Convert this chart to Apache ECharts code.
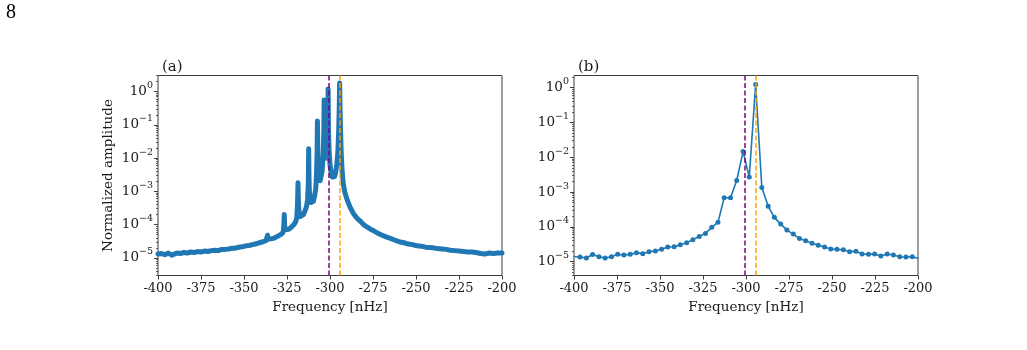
<!DOCTYPE html>
<html>
<head>
<meta charset="utf-8">
<script src="https://cdn.jsdelivr.net/npm/echarts@6/dist/echarts.min.js"></script>
<style>
  html, body { margin: 0; padding: 0; background: #fff; }
  #chart { width: 1027px; height: 350px; }
</style>
</head>
<body>
<div id="chart"></div>
<script>
// panel (a): fine frequency grid, normalized amplitude
var freqA = [
  -400, -398, -396, -394, -392, -390.5, -389, -387, -385, -383,
  -381, -379, -377, -375, -373, -371, -369, -367, -365, -363,
  -361, -359, -357, -355, -353, -351, -349, -347, -345, -343,
  -341, -339, -337.2, -336.6, -336.3, -336.0, -335, -333, -331, -329,
  -327.6, -327.1, -326.8, -326.6, -326.4, -326.1, -325.5, -324, -322.5, -321,
  -320, -319.3, -318.9, -318.6, -318.4, -318.2, -317.9, -317.4, -316.5, -315.5,
  -314.5, -313.6, -313.0, -312.6, -312.4, -312.2, -312.0, -311.6, -311.0, -310.4,
  -309.7, -309.0, -308.3, -307.8, -307.5, -307.3, -307.1, -306.8, -306.3, -305.7,
  -305.2, -304.6, -304.0, -303.6, -303.4, -303.2, -302.9, -302.5, -302.1, -301.7,
  -301.3, -301.1, -300.9, -300.5, -300.0, -299.4, -298.7, -298.0, -297.3, -296.6,
  -296.0, -295.4, -294.9, -294.6, -294.4, -294.2, -293.9, -293.5, -293.0, -292.3,
  -291.3, -290.0, -288.4, -286.5, -284.5, -282.6, -280.5, -278.5, -276.5, -274.8,
  -272.5, -270, -267, -264, -261.5, -259.3, -257, -254.5, -252, -249.6,
  -247, -244.5, -242, -240, -237.5, -235, -232.5, -230, -227.5, -225,
  -222.5, -220, -217.5, -215, -212.5, -210, -207.5, -205, -202.5, -200
];
var ampA = [
  1.3e-5, 1.35e-5, 1.25e-5, 1.4e-5, 1.2e-5, 1.3e-5, 1.4e-5, 1.35e-5, 1.45e-5, 1.4e-5,
  1.5e-5, 1.45e-5, 1.55e-5, 1.5e-5, 1.6e-5, 1.55e-5, 1.65e-5, 1.7e-5, 1.65e-5, 1.8e-5,
  1.8e-5, 1.85e-5, 1.95e-5, 1.95e-5, 2.1e-5, 2.15e-5, 2.3e-5, 2.35e-5, 2.5e-5, 2.65e-5,
  2.85e-5, 3.05e-5, 3.3e-5, 3.6e-5, 4.8e-5, 3.6e-5, 3.55e-5, 3.85e-5, 4.3e-5, 4.9e-5,
  5.5e-5, 6.5e-5, 1.0e-4, 2.0e-4, 1.0e-4, 7.0e-5, 6.6e-5, 7.2e-5, 8.3e-5, 1.0e-4,
  1.2e-4, 1.6e-4, 4.0e-4, 1.8e-3, 6.0e-4, 3.2e-4, 2.2e-4, 1.75e-4, 1.75e-4, 2.0e-4,
  2.6e-4, 3.6e-4, 6.0e-4, 1.8e-3, 1.9e-2, 2.5e-3, 1.0e-3, 6.0e-4, 4.6e-4, 4.3e-4,
  5.0e-4, 7.0e-4, 1.2e-3, 3.5e-3, 1.5e-2, 1.3e-1, 1.5e-2, 4.5e-3, 2.6e-3, 2.1e-3,
  2.3e-3, 4.0e-3, 1.2e-2, 6.0e-2, 5.6e-1, 6.0e-2, 2.2e-2, 1.2e-2, 1.0e-2, 1.5e-2,
  7.0e-2, 1.2, 7.0e-2, 1.5e-2, 6.5e-3, 3.8e-3, 2.7e-3, 2.5e-3, 2.8e-3, 4.0e-3,
  7.0e-3, 1.6e-2, 8.0e-2, 4.0e-1, 1.8, 4.0e-1, 8.0e-2, 1.5e-2, 4.5e-3, 1.7e-3,
  9.0e-4, 5.5e-4, 3.4e-4, 2.2e-4, 1.6e-4, 1.3e-4, 1.0e-4, 8.5e-5, 7.3e-5, 6.6e-5,
  5.6e-5, 4.9e-5, 4.2e-5, 3.7e-5, 3.3e-5, 3.0e-5, 2.85e-5, 2.6e-5, 2.5e-5, 2.3e-5,
  2.25e-5, 2.1e-5, 2.05e-5, 2.0e-5, 1.9e-5, 1.85e-5, 1.8e-5, 1.7e-5, 1.65e-5, 1.6e-5,
  1.55e-5, 1.5e-5, 1.5e-5, 1.45e-5, 1.35e-5, 1.3e-5, 1.4e-5, 1.35e-5, 1.4e-5, 1.4e-5
];

// panel (b): coarse frequency grid
var freqB = [
  -400.1, -396.5, -392.8, -389.2, -385.5, -381.9, -378.2, -374.6, -371.0, -367.3,
  -363.7, -360.0, -356.4, -352.7, -349.1, -345.5, -341.8, -338.2, -334.5, -330.9,
  -327.2, -323.6, -319.9, -316.3, -312.7, -309.0, -305.4, -301.7, -298.1, -294.4,
  -290.8, -287.1, -283.5, -279.8, -276.2, -272.5, -268.9, -265.3, -261.6, -258.0,
  -254.3, -250.7, -247.1, -243.4, -239.8, -236.1, -232.5, -228.8, -225.2, -221.6,
  -217.9, -214.3, -210.6, -207.0, -203.3, -199.7
];
var ampB = [
  1.4e-5, 1.36e-5, 1.27e-5, 1.6e-5, 1.39e-5, 1.27e-5, 1.39e-5, 1.62e-5, 1.55e-5, 1.62e-5,
  1.81e-5, 1.7e-5, 1.94e-5, 2.02e-5, 2.26e-5, 2.63e-5, 2.69e-5, 3.08e-5, 3.5e-5, 4.3e-5,
  5.3e-5, 6.5e-5, 9.7e-5, 1.35e-4, 6.9e-4, 6.9e-4, 2.15e-3, 1.46e-2, 2.7e-3, 1.25,
  1.36e-3, 3.9e-4, 1.88e-4, 1.2e-4, 8.1e-5, 6.2e-5, 4.6e-5, 4.0e-5, 3.36e-5, 2.95e-5,
  2.63e-5, 2.31e-5, 2.26e-5, 2.21e-5, 1.94e-5, 1.98e-5, 1.66e-5, 1.62e-5, 1.66e-5, 1.45e-5,
  1.66e-5, 1.55e-5, 1.39e-5, 1.36e-5, 1.39e-5, 1.24e-5
];

// reference frequencies (dashed lines)
var purpleFreq = -301.0;
var orangeFreq = -294.4;

// tick values
var yTickValues = [1e-5, 1e-4, 1e-3, 1e-2, 1e-1, 1];
var yMinorTicks = [];
for (var d = -6; d <= 0; d++) {
  for (var m = 2; m <= 9; m++) yMinorTicks.push(m * Math.pow(10, d));
}

var SERIF = '"DejaVu Serif", serif';
var TXT = '#1a1a1a';
var FRAME = '#3c3c3c';
var BLUE = '#1f77b4';

function zip(xs, ys) {
  return xs.map(function (x, i) { return [x, ys[i]]; });
}

function sciLabel(v) {
  var e = Math.round(Math.log10(v));
  var sup = e === 0 ? '0' : '\u2212' + Math.abs(e);
  return '{b|10}{s|' + sup + '}';
}

var grids = [
  { left: 158, top: 75.5, width: 344, height: 200 },
  { left: 574, top: 75.5, width: 344, height: 200 }
];
grids.forEach(function (g) {
  g.show = true;
  g.borderColor = FRAME;
  g.borderWidth = 1;
  g.backgroundColor = 'transparent';
});

function xAxisFor(i) {
  return {
    type: 'value', gridIndex: i, min: -400, max: -200, interval: 25,
    name: 'Frequency [nHz]', nameLocation: 'middle', nameGap: 24,
    nameTextStyle: { fontFamily: SERIF, fontSize: 13.5, color: TXT },
    axisLine: { show: false },
    axisTick: { show: true, length: 4, lineStyle: { color: FRAME, width: 1 } },
    axisLabel: { fontFamily: SERIF, fontSize: 13, color: TXT, margin: 7 },
    splitLine: { show: false }
  };
}

function yAxisFor(i, min, max) {
  return {
    type: 'log', logBase: 10, gridIndex: i, min: min, max: max,
    position: 'left', offset: 0,
    axisLine: { show: false },
    axisTick: { show: true, length: 4, customValues: yTickValues,
      lineStyle: { color: FRAME, width: 1 } },
    axisLabel: {
      customValues: yTickValues, margin: 5,
      formatter: sciLabel,
      rich: {
        b: { fontFamily: SERIF, fontSize: 13.5, color: TXT, lineHeight: 22 },
        s: { fontFamily: SERIF, fontSize: 9.5, color: TXT, lineHeight: 13, verticalAlign: 'top' }
      }
    },
    splitLine: { show: false }
  };
}

// second log axis on the same side, only for the 2..9 minor ticks
function minorAxisFor(i, min, max) {
  return {
    type: 'log', logBase: 10, gridIndex: i, min: min, max: max,
    position: 'left', offset: 0,
    axisLine: { show: false },
    axisTick: { show: true, length: 2, customValues: yMinorTicks,
      lineStyle: { color: FRAME, width: 0.8 } },
    axisLabel: { show: false },
    splitLine: { show: false }
  };
}

var yA = yAxisFor(0, 2.95e-6, 3.04);
yA.name = 'Normalized amplitude';
yA.nameLocation = 'middle';
yA.nameGap = 43;
yA.nameTextStyle = { fontFamily: SERIF, fontSize: 13.5, color: TXT };

function vLines() {
  return {
    silent: true, symbol: 'none', animation: false,
    label: { show: false },
    data: [
      { xAxis: purpleFreq, lineStyle: { color: '#800080', width: 1.5, type: [5, 2.5] } },
      { xAxis: orangeFreq, lineStyle: { color: '#FFA500', width: 1.5, type: [5, 2.5] } }
    ]
  };
}

var chart = echarts.init(document.getElementById('chart'), null, { renderer: 'canvas' });
chart.setOption({
  backgroundColor: '#fff',
  animation: false,
  title: [
    { text: '(a)', left: 157, top: 55, textStyle: { fontFamily: SERIF, fontSize: 15, fontWeight: 'normal', color: TXT } },
    { text: '(b)', left: 573, top: 55, textStyle: { fontFamily: SERIF, fontSize: 15, fontWeight: 'normal', color: TXT } }
  ],
  graphic: [
    { type: 'text', left: 6, top: 3, style: { text: '8', font: '20px "Liberation Serif"', fill: '#000' } }
  ],
  grid: grids,
  xAxis: [xAxisFor(0), xAxisFor(1)],
  yAxis: [yA, yAxisFor(1, 4.0e-6, 2.25), minorAxisFor(0, 2.95e-6, 3.04), minorAxisFor(1, 4.0e-6, 2.25)],
  series: [
    {
      type: 'line', xAxisIndex: 0, yAxisIndex: 0,
      data: zip(freqA, ampA),
      showSymbol: false, clip: true,
      lineStyle: { color: BLUE, width: 5, join: 'round', cap: 'round' },
      markLine: vLines()
    },
    {
      type: 'line', xAxisIndex: 1, yAxisIndex: 1,
      data: zip(freqB, ampB),
      symbol: 'circle', symbolSize: 5, clip: true,
      itemStyle: { color: BLUE },
      lineStyle: { color: BLUE, width: 1.6 },
      markLine: vLines()
    }
  ]
});
</script>
</body>
</html>
